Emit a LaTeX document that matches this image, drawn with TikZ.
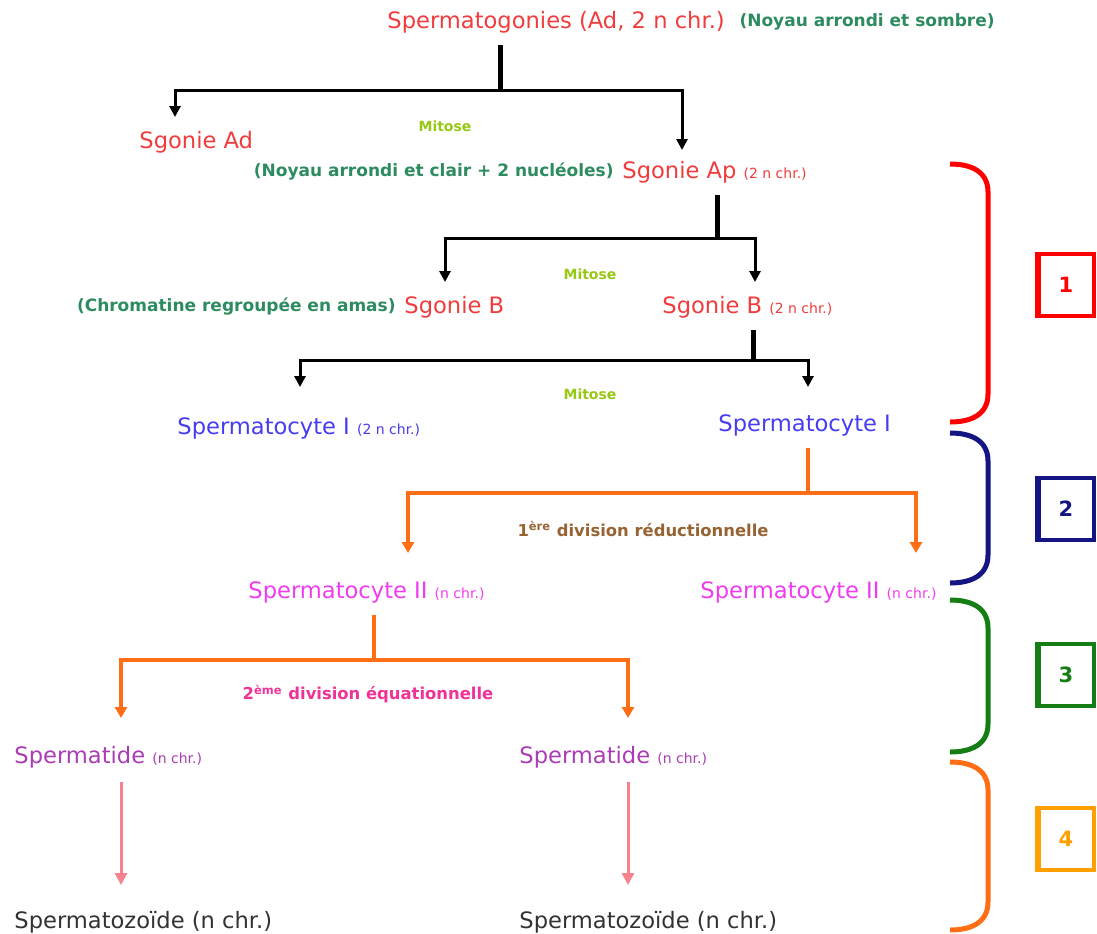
\documentclass[tikz,border=0pt]{standalone}
\usepackage{fontspec}
\setmainfont{DejaVu Sans}
\usetikzlibrary{positioning, arrows.meta}

\definecolor{cRed}{RGB}{240,60,60}
\definecolor{cNote}{RGB}{45,140,95}
\definecolor{cMit}{RGB}{150,200,20}
\definecolor{cBlue}{RGB}{70,60,240}
\definecolor{cMag}{RGB}{240,60,240}
\definecolor{cBrown}{RGB}{150,100,50}
\definecolor{cPink}{RGB}{240,50,150}
\definecolor{cPurple}{RGB}{170,60,180}
\definecolor{cArr}{RGB}{245,130,140}
\definecolor{cOrange}{RGB}{255,110,20}
\definecolor{cGray}{RGB}{50,50,50}
\definecolor{bRed}{RGB}{255,0,0}
\definecolor{bNavy}{RGB}{20,20,130}
\definecolor{bGreen}{RGB}{20,125,20}
\definecolor{bYellow}{RGB}{255,160,0}

\newcommand{\chr}[1]{{\fontsize{7}{8}\selectfont #1}}

\begin{document}
\begin{tikzpicture}[x=0.5pt, y=-0.5pt,
    lbl/.style={anchor=west, inner sep=1pt, font=\fontsize{11.3}{13}\selectfont},
    note/.style={anchor=west, inner sep=1pt, text=cNote, font=\fontsize{8.5}{10}\selectfont\bfseries},
    mit/.style={inner sep=1pt, text=cMit, font=\fontsize{7}{8}\selectfont\bfseries},
    stem/.style={line width=2.5pt, shorten <=5pt},
    branch/.style={line width=1.5pt, -{Triangle[width=5.5pt,length=5.5pt]}},
    obranch/.style={line width=2pt, draw=cOrange, -{Triangle[width=6pt,length=5.5pt]}},
    ostem/.style={line width=2pt, draw=cOrange, shorten <=5pt},
    parr/.style={line width=1.5pt, draw=cArr, shorten <=6pt, -{Triangle[width=6pt,length=6pt]}},
    brace/.style={line width=2.5pt, draw=#1},
    numbox/.style={draw=#1, text=#1, line width=1.6pt, minimum width=28pt, minimum height=31pt,
        inner sep=0pt, font=\fontsize{10.5}{12}\selectfont\bfseries}]
  \useasboundingbox (0,0) rectangle (1097,933);

  % Cells
  \node[lbl, text=cRed] (sg) at (385,22) {Spermatogonies (Ad, 2 n chr.)};
  \node[note, right=5pt of sg] (sgnote) {(Noyau arrondi et sombre)};
  \node[lbl, text=cRed] (ad) at (137,142) {Sgonie Ad};
  \node[lbl, text=cRed] (ap) at (620,172) {Sgonie Ap \chr{(2 n chr.)}};
  \node[note, left=2pt of ap] (apnote) {(Noyau arrondi et clair + 2 nucléoles)};
  \node[lbl, text=cRed] (b1) at (402,307) {Sgonie B};
  \node[note, left=2pt of b1] (bnote) {(Chromatine regroupée en amas)};
  \node[lbl, text=cRed] (b2) at (660,307) {Sgonie B \chr{(2 n chr.)}};
  \node[lbl, text=cBlue] (c1a) at (175,428) {Spermatocyte I \chr{(2 n chr.)}};
  \node[lbl, text=cBlue] (c1b) at (716,425) {Spermatocyte I};
  \node[lbl, text=cMag] (c2a) at (246,592) {Spermatocyte II \chr{(n chr.)}};
  \node[lbl, text=cMag] (c2b) at (698,592) {Spermatocyte II \chr{(n chr.)}};
  \node[lbl, text=cPurple] (t1) at (12,757) {Spermatide \chr{(n chr.)}};
  \node[lbl, text=cPurple] (t2) at (517,757) {Spermatide \chr{(n chr.)}};
  \node[lbl, text=cGray] (z1) at (12,922) {Spermatozoïde (n chr.)};
  \node[lbl, text=cGray] (z2) at (517,922) {Spermatozoïde (n chr.)};

  % Division labels
  \node[mit] (m1) at (445,126) {Mitose};
  \node[mit] (m2) at (590,274) {Mitose};
  \node[mit] (m3) at (590,394) {Mitose};
  \node[inner sep=1pt, text=cBrown, font=\fontsize{8.2}{10}\selectfont\bfseries] (d1) at (643,529)
    {1\textsuperscript{ère} division réductionnelle};
  \node[inner sep=1pt, text=cPink, font=\fontsize{8.2}{10}\selectfont\bfseries] (d2) at (368,694)
    {2\textsuperscript{ème} division équationnelle};

  % Junctions and arrow ends
  \coordinate (j1) at (500,90);
  \coordinate (j2) at (717,238);
  \coordinate (j3) at (753,360);
  \coordinate (j4) at (808,493);
  \coordinate (j5) at (374,660);
  \coordinate (eAd) at (175,117);
  \coordinate (eAp) at (682,150);
  \coordinate (eB1) at (445,282);
  \coordinate (eB2) at (755,282);
  \coordinate (eC1a) at (300,387);
  \coordinate (eC1b) at (808,387);
  \coordinate (eC2a) at (408,553);
  \coordinate (eC2b) at (916,553);
  \coordinate (eT1) at (121,718);
  \coordinate (eT2) at (628,718);
  \coordinate (eZ1) at (121,885);
  \coordinate (eZ2) at (628,885);

  % Mitoses
  \draw[stem] (sg.south -| j1) -- (j1);
  \draw[branch] (j1) -| (eAd);
  \draw[branch] (j1) -| (eAp);
  \draw[stem] (ap.south -| j2) -- (j2);
  \draw[branch] (j2) -| (eB1);
  \draw[branch] (j2) -| (eB2);
  \draw[stem] (b2.south -| j3) -- (j3);
  \draw[branch] (j3) -| (eC1a);
  \draw[branch] (j3) -| (eC1b);

  % Meiosis
  \draw[ostem] (c1b.south -| j4) -- (j4);
  \draw[obranch] (j4) -| (eC2a);
  \draw[obranch] (j4) -| (eC2b);
  \draw[ostem] (c2a.south -| j5) -- (j5);
  \draw[obranch] (j5) -| (eT1);
  \draw[obranch] (j5) -| (eT2);

  % Spermiogenesis
  \draw[parr] (t1.south -| eZ1) -- (eZ1);
  \draw[parr] (t2.south -| eZ2) -- (eZ2);

  % Phases
  \foreach \ya/\yb/\c in {164/422/bRed, 433/583/bNavy, 600/752/bGreen, 762/930/cOrange} {
    \draw[brace=\c] (950,\ya) .. controls (972,\ya) and (988,\ya+8) .. (988,\ya+28)
      -- (988,\yb-28) .. controls (988,\yb-8) and (972,\yb) .. (950,\yb);
  }
  \foreach \n/\y/\c in {1/285/bRed, 2/509/bNavy, 3/675/bGreen, 4/839/bYellow} {
    \node[numbox=\c] (box\n) at (1066,\y) {\n};
    \draw[line width=3pt, draw=\c] ([xshift=0.7pt]box\n.north west) -- ([xshift=0.7pt]box\n.south west);
  }
\end{tikzpicture}
\end{document}
